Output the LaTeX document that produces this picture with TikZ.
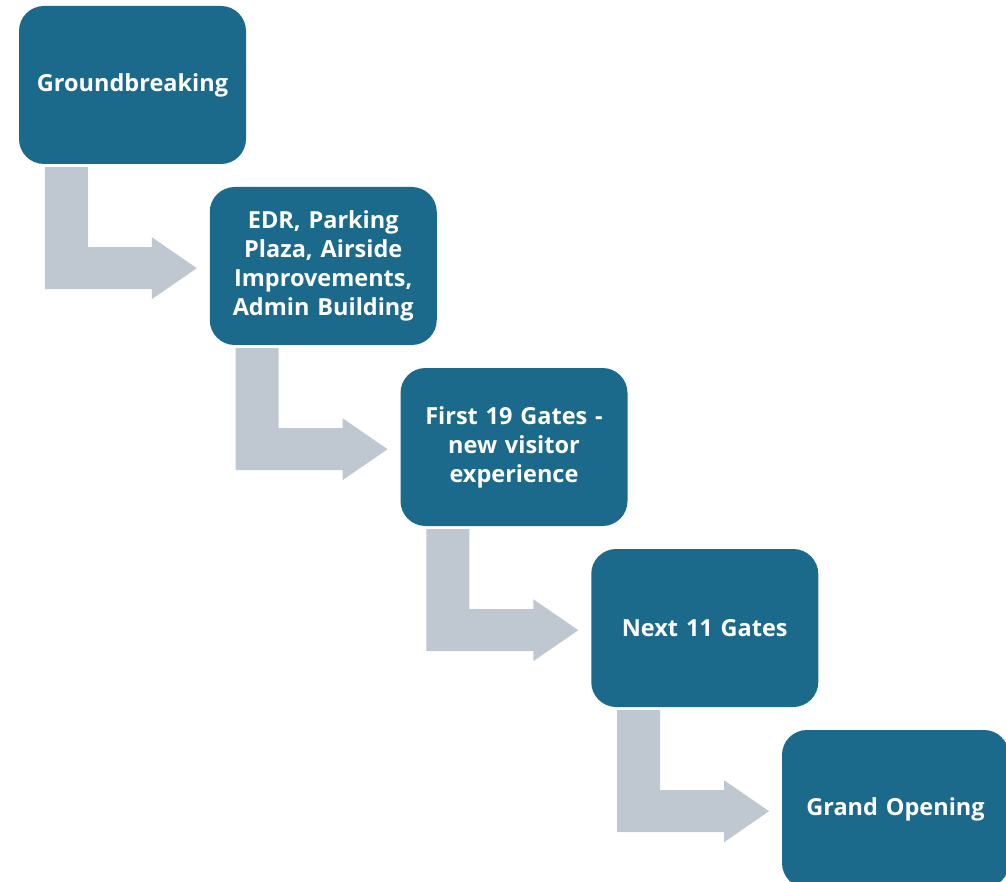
\documentclass[tikz,border=0pt]{standalone}
\usepackage{fontspec}
\setmainfont{Open Sans}
\usepackage{tikz}
\usetikzlibrary{calc}
\definecolor{stagefill}{RGB}{27,105,139}
\definecolor{flowgray}{RGB}{191,200,209}

\tikzset{
  stage/.style={fill=stagefill, rounded corners=25pt, minimum width=227pt,
    minimum height=158pt, inner sep=0pt, text width=215pt, align=center,
    text=white, font=\bfseries\fontsize{23.5}{29}\selectfont},
  flow/.style={fill=flowgray}
}

\begin{document}
\begin{tikzpicture}[x=1pt,y=-1pt]
\useasboundingbox (0,0) rectangle (1006,882);
\node[stage] (s1) at (132.5,85) {Groundbreaking};
\node[stage] (s2) at (323.25,266) {EDR, Parking\\Plaza, Airside\\Improvements,\\Admin Building};
\node[stage] (s3) at (514,447) {First 19 Gates -\\new visitor\\experience};
\node[stage] (s4) at (704.75,628) {Next 11 Gates};
\node[stage] (s5) at (895.5,809) {Grand Opening};
% bent arrows between the stages
\foreach \a in {s1,s2,s3,s4}{
  \fill[flow] ($(\a.south west)+(26,3)$) -- ($(\a.south west)+(69,3)$)
    -- ($(\a.south west)+(69,83)$) -- ($(\a.south west)+(133,83)$)
    -- ($(\a.south west)+(133,73)$) -- ($(\a.south west)+(178,104)$)
    -- ($(\a.south west)+(133,135)$) -- ($(\a.south west)+(133,125)$)
    -- ($(\a.south west)+(26,125)$) -- cycle;
}
\end{tikzpicture}
\end{document}
